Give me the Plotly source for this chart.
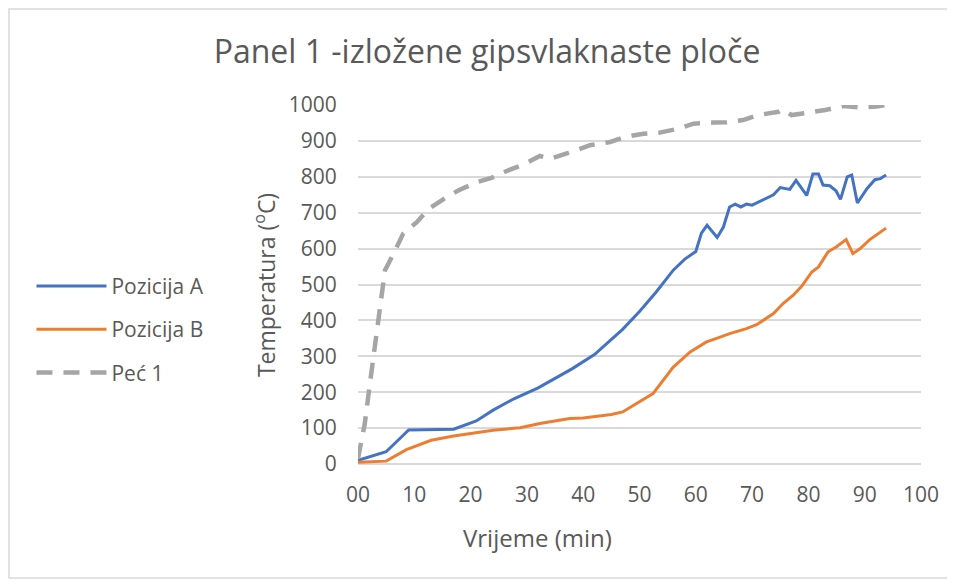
import plotly.graph_objects as go

# Pozicija A (blue)
time_a = [0, 5, 9, 17, 21, 24, 27.6, 32, 38, 42, 47, 50, 53, 56, 58, 60, 61, 62,
          63.8, 64.9, 66, 67, 68, 69, 70, 72.6, 73.8, 75, 76.7, 77.8, 79.7, 80.8,
          81.8, 82.6, 83.8, 84.9, 85.7, 86.9, 87.7, 88.7, 90.4, 91.8, 92.8, 93.8]
temp_a = [10, 34, 95, 97, 120, 150, 181, 212, 265, 305, 375, 425, 480, 540, 570,
          592, 643, 665, 631, 660, 716, 724, 716, 724, 721, 740, 750, 770, 765,
          790, 748, 808, 808, 777, 775, 761, 737, 800, 805, 727, 767, 792, 795, 805]

# Pozicija B (orange)
time_b = [0, 5, 8.6, 13, 17, 20.5, 24, 28.8, 32.3, 37.6, 40, 45, 47, 52.4, 56, 59,
          61.9, 63.7, 66, 69, 70.8, 73.8, 75.5, 77.3, 78.8, 80.6, 81.8, 83.5, 85,
          86.7, 87.9, 89.2, 90.9, 93.8]
temp_b = [5, 8, 40, 66, 78, 85, 94, 101, 113, 127, 128, 138, 145, 196, 270, 312,
          340, 350, 363, 377, 388, 419, 447, 470, 495, 535, 549, 591, 605, 625,
          586, 600, 625, 657]

# Peć 1 (furnace, grey dashed)
time_f = [0, 1.2, 2.1, 3, 3.9, 4.8, 6.6, 8, 10.4, 12.5, 15.2, 17.8, 21.1, 23.7, 27,
          29.4, 32.3, 34.1, 38.8, 41.2, 44.8, 47.4, 50.7, 53.6, 56.9, 59.6, 63.1,
          65.5, 68.4, 71.1, 74.7, 75.5, 77, 80.3, 83, 86.2, 89.2, 92.1, 93.9]
temp_f = [15, 112, 222, 334, 445, 540, 595, 641, 673, 710, 738, 762, 785, 797, 820,
          834, 858, 850, 874, 888, 897, 911, 920, 923, 934, 948, 951, 952, 958, 972,
          981, 988, 972, 978, 986, 997, 993, 996, 1000]

x_ticks = [0, 10, 20, 30, 40, 50, 60, 70, 80, 90, 100]
x_tick_text = ["00", "10", "20", "30", "40", "50", "60", "70", "80", "90", "100"]

FONT = "'Open Sans', sans-serif"
GREY = "#595959"

fig = go.Figure()
fig.add_trace(go.Scatter(x=time_a, y=temp_a, mode="lines", name="Pozicija A",
                         legendgroup="a", line={"color": "#4472C4", "width": 3}))
fig.add_trace(go.Scatter(x=time_b, y=temp_b, mode="lines", name="Pozicija B",
                         legendgroup="b", line={"color": "#ED7D31", "width": 3}))
fig.add_trace(go.Scatter(x=time_f, y=temp_f, mode="lines", name="Peć 1",
                         legendgroup="f",
                         line={"color": "#A5A5A5", "width": 4.5, "dash": "16px,11px"}))

fig.update_layout(
    width=955,
    height=580,
    margin={"l": 350, "r": 42, "t": 97, "b": 124, "autoexpand": False},
    paper_bgcolor="white",
    plot_bgcolor="white",
    font={"family": FONT, "color": GREY, "size": 21},
    title={"text": "Panel 1 -izložene gipsvlaknaste ploče", "x": 0.5016, "xanchor": "center",
           "y": 0.924, "yanchor": "middle", "font": {"size": 32, "color": GREY}},
    showlegend=True,
    legend={"x": -0.58, "xanchor": "left", "y": 0.552, "yanchor": "top",
            "font": {"size": 21, "color": GREY}, "tracegroupgap": 13,
            "itemwidth": 70, "bgcolor": "rgba(0,0,0,0)"},
    annotations=[
        {"text": "Temperatura (<sup>o</sup>C)", "xref": "paper", "yref": "paper",
         "x": -0.165, "y": 0.4986, "xanchor": "center", "yanchor": "middle",
         "textangle": -90, "showarrow": False,
         "font": {"size": 23, "color": GREY}},
        {"text": "Vrijeme (min)", "xref": "paper", "yref": "paper",
         "x": 0.318, "y": -0.2035, "xanchor": "center", "yanchor": "middle",
         "showarrow": False, "font": {"size": 24, "color": GREY}},
    ],
    shapes=[
        {"type": "rect", "xref": "paper", "yref": "paper",
         "x0": (9 - 358) / 563, "x1": (951 - 358) / 563,
         "y0": (464 - 578) / 359, "y1": (464 - 9) / 359,
         "line": {"color": "#D9D9D9", "width": 1.5}, "layer": "below"},
    ],
)
fig.update_xaxes(range=[0, 100], tickvals=x_ticks, ticktext=x_tick_text,
                 showgrid=False, zeroline=False, showline=False,
                 ticks="outside", ticklen=12, tickcolor="rgba(0,0,0,0)")
fig.update_yaxes(range=[0, 1000], dtick=100, showgrid=True, gridcolor="#D9D9D9",
                 gridwidth=1.5, zeroline=True, zerolinecolor="#D9D9D9",
                 zerolinewidth=1.5, showline=False,
                 ticks="outside", ticklen=16, tickcolor="rgba(0,0,0,0)")

fig.write_html("out.html")
